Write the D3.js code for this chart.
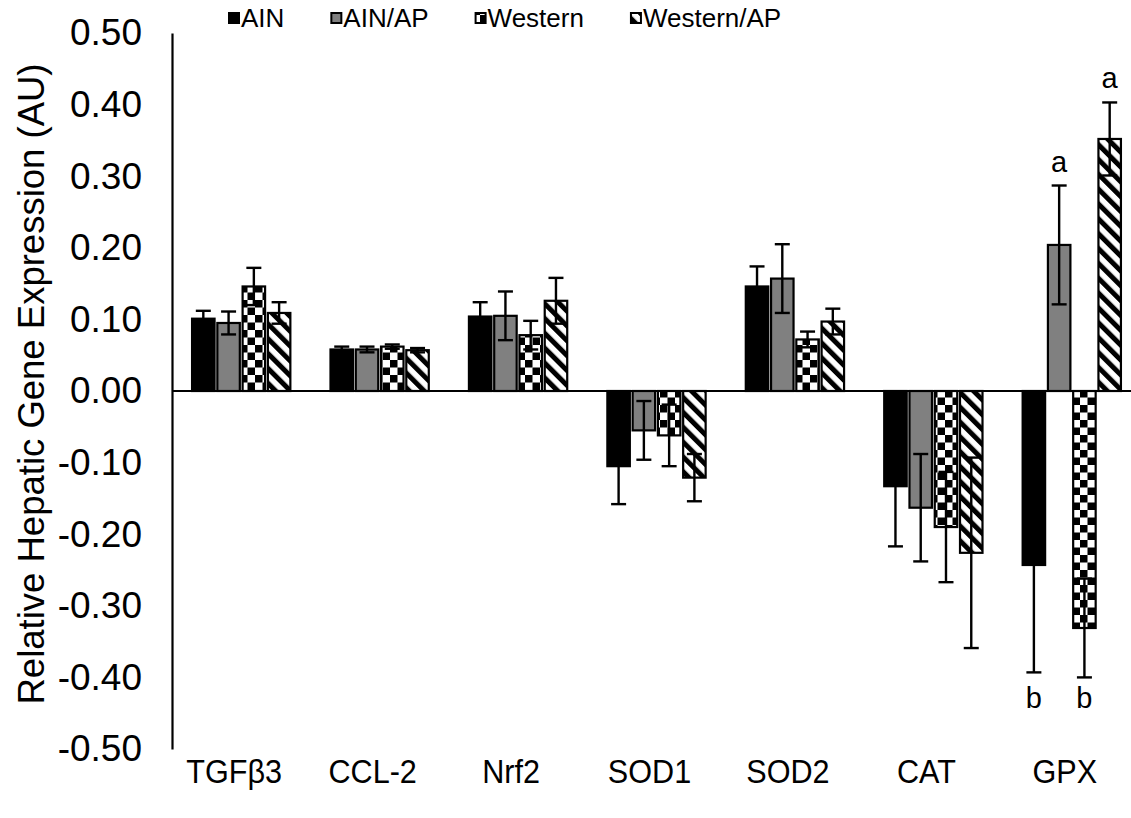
<!DOCTYPE html>
<html><head><meta charset="utf-8">
<script src="https://cdn.jsdelivr.net/npm/d3@7"></script>
<style>body{margin:0;background:#fff}svg{display:block}text{font-family:"Liberation Sans",Arial,sans-serif;fill:#000}</style>
</head><body><svg id="c" width="1131" height="818"></svg>
<script>
const categories = ["TGFβ3","CCL-2","Nrf2","SOD1","SOD2","CAT","GPX"];
const series = ["AIN","AIN/AP","Western","Western/AP"];
const AIN        = [0.101, 0.058, 0.104, -0.105, 0.146, -0.133, -0.243];
const AIN_AP     = [0.095, 0.058, 0.105, -0.055, 0.157, -0.163,  0.204];
const Western    = [0.146, 0.062, 0.078, -0.062, 0.072, -0.190, -0.331];
const Western_AP = [0.109, 0.057, 0.126, -0.121, 0.097, -0.226,  0.352];
const AIN_err        = [0.011, 0.004, 0.020, 0.053, 0.028, 0.084, 0.150];
const AIN_AP_err     = [0.016, 0.004, 0.034, 0.041, 0.048, 0.075, 0.083];
const Western_err    = [0.026, 0.003, 0.020, 0.043, 0.011, 0.077, 0.069];
const Western_AP_err = [0.015, 0.003, 0.032, 0.033, 0.018, 0.133, 0.051];
const yTicks = [0.5,0.4,0.3,0.2,0.1,0,-0.1,-0.2,-0.3,-0.4,-0.5];
const sigLetters = [["GPX","AIN","b"],["GPX","AIN/AP","a"],["GPX","Western","b"],["GPX","Western/AP","a"]];
const yTitle = "Relative Hepatic Gene Expression (AU)";

const values = [AIN, AIN_AP, Western, Western_AP];
const errors = [AIN_err, AIN_AP_err, Western_err, Western_AP_err];
const fills = ["#000000","#808080","url(#checker)","url(#stripes)"];

const W = 1131, H = 818;
const FONT = '"Liberation Sans",Arial,sans-serif';
const svg = d3.select("#c");
const defs = svg.append("defs");
const chk = defs.append("pattern").attr("id","checker").attr("patternUnits","userSpaceOnUse")
  .attr("width",15).attr("height",15);
chk.append("rect").attr("width",15).attr("height",15).attr("fill","#fff");
chk.append("rect").attr("width",7.5).attr("height",7.5).attr("fill","#000");
chk.append("rect").attr("x",7.5).attr("y",7.5).attr("width",7.5).attr("height",7.5).attr("fill","#000");
const str = defs.append("pattern").attr("id","stripes").attr("patternUnits","userSpaceOnUse")
  .attr("width",10.5).attr("height",10.5).attr("patternTransform","rotate(-45)");
str.append("rect").attr("width",10.5).attr("height",10.5).attr("fill","#fff");
str.append("rect").attr("width",5).attr("height",10.5).attr("fill","#000");

const x0 = d3.scaleBand().domain(categories).range([172,1141]).paddingInner(0.29).paddingOuter(0.145);
const x1 = d3.scaleBand().domain(series).range([0,x0.bandwidth()]).paddingInner(0.11).paddingOuter(0);
const y = d3.scaleLinear().domain([-0.5,0.5]).range([749,33]);

const rows = [];
categories.forEach((c,i)=>series.forEach((s,j)=>rows.push({c,s,j,v:values[j][i],e:errors[j][i]})));

const g = svg.append("g");
g.selectAll("rect.bar").data(rows).join("rect").attr("class","bar")
  .attr("x",d=>x0(d.c)+x1(d.s)).attr("width",x1.bandwidth())
  .attr("y",d=>y(Math.max(d.v,0))).attr("height",d=>Math.abs(y(d.v)-y(0)))
  .attr("fill",d=>fills[d.j]).attr("stroke","#000").attr("stroke-width",2.2);

// error bars
const eb = g.selectAll("g.err").data(rows).join("g").attr("class","err")
  .attr("transform",d=>`translate(${x0(d.c)+x1(d.s)+x1.bandwidth()/2},0)`);
eb.append("line").attr("y1",d=>y(d.v+d.e)).attr("y2",d=>y(d.v-d.e)).attr("stroke","#000").attr("stroke-width",2.4);
eb.append("line").attr("x1",-7.5).attr("x2",7.5).attr("y1",d=>y(d.v+d.e)).attr("y2",d=>y(d.v+d.e)).attr("stroke","#000").attr("stroke-width",2.4);
eb.append("line").attr("x1",-7.5).attr("x2",7.5).attr("y1",d=>y(d.v-d.e)).attr("y2",d=>y(d.v-d.e)).attr("stroke","#000").attr("stroke-width",2.4);

// zero line
svg.append("line").attr("x1",172).attr("x2",W).attr("y1",y(0)).attr("y2",y(0)).attr("stroke","#000").attr("stroke-width",2.2);

// y axis
const ya = svg.append("g").attr("transform","translate(172,0)")
  .call(d3.axisLeft(y).tickValues(yTicks).tickFormat(d=>d.toFixed(2)).tickSize(0).tickPadding(30));
ya.select(".domain").attr("stroke","#000").attr("stroke-width",2.2);
ya.selectAll("text").attr("font-size",37).attr("font-family",FONT);

// x labels
svg.selectAll("text.xl").data(categories).join("text").attr("class","xl")
  .attr("transform",d=>`translate(${x0(d)+x0.bandwidth()/2-7},783) scale(0.9,1)`)
  .attr("text-anchor","middle").attr("font-size",34).text(d=>d);

// y title
svg.append("text").attr("transform","translate(44,384) rotate(-90)").attr("text-anchor","middle")
  .attr("font-size",36.5).text(yTitle);

// significance letters: "a" above positive bars, "b" on a shared baseline below the negative ones
sigLetters.forEach(([c,s,l])=>{
  const j = series.indexOf(s), i = categories.indexOf(c);
  const v = values[j][i], e = errors[j][i];
  const cx = x0(c)+x1(s)+x1.bandwidth()/2;
  let yy;
  if (v >= 0) yy = y(v+e)-14;
  else {
    const lows = series.map((_,k)=>values[k][i]).map((vv,k)=>vv<0 ? y(vv-errors[k][i]) : -Infinity);
    yy = d3.max(lows)+31;
  }
  svg.append("text").attr("x",cx).attr("y",yy).attr("text-anchor","middle").attr("font-size",29).text(l);
});

// legend
let lx = 229;
series.forEach((s,j)=>{
  const lg = svg.append("g");
  lg.append("rect").attr("x",lx).attr("y",13).attr("width",10).attr("height",10)
    .attr("fill",fills[j]).attr("stroke","#000").attr("stroke-width",2);
  const t = lg.append("text").attr("x",lx+12).attr("y",27).attr("font-size",26).text(s);
  lx = lx + 12 + t.node().getComputedTextLength() + 47;
});
</script></body></html>
